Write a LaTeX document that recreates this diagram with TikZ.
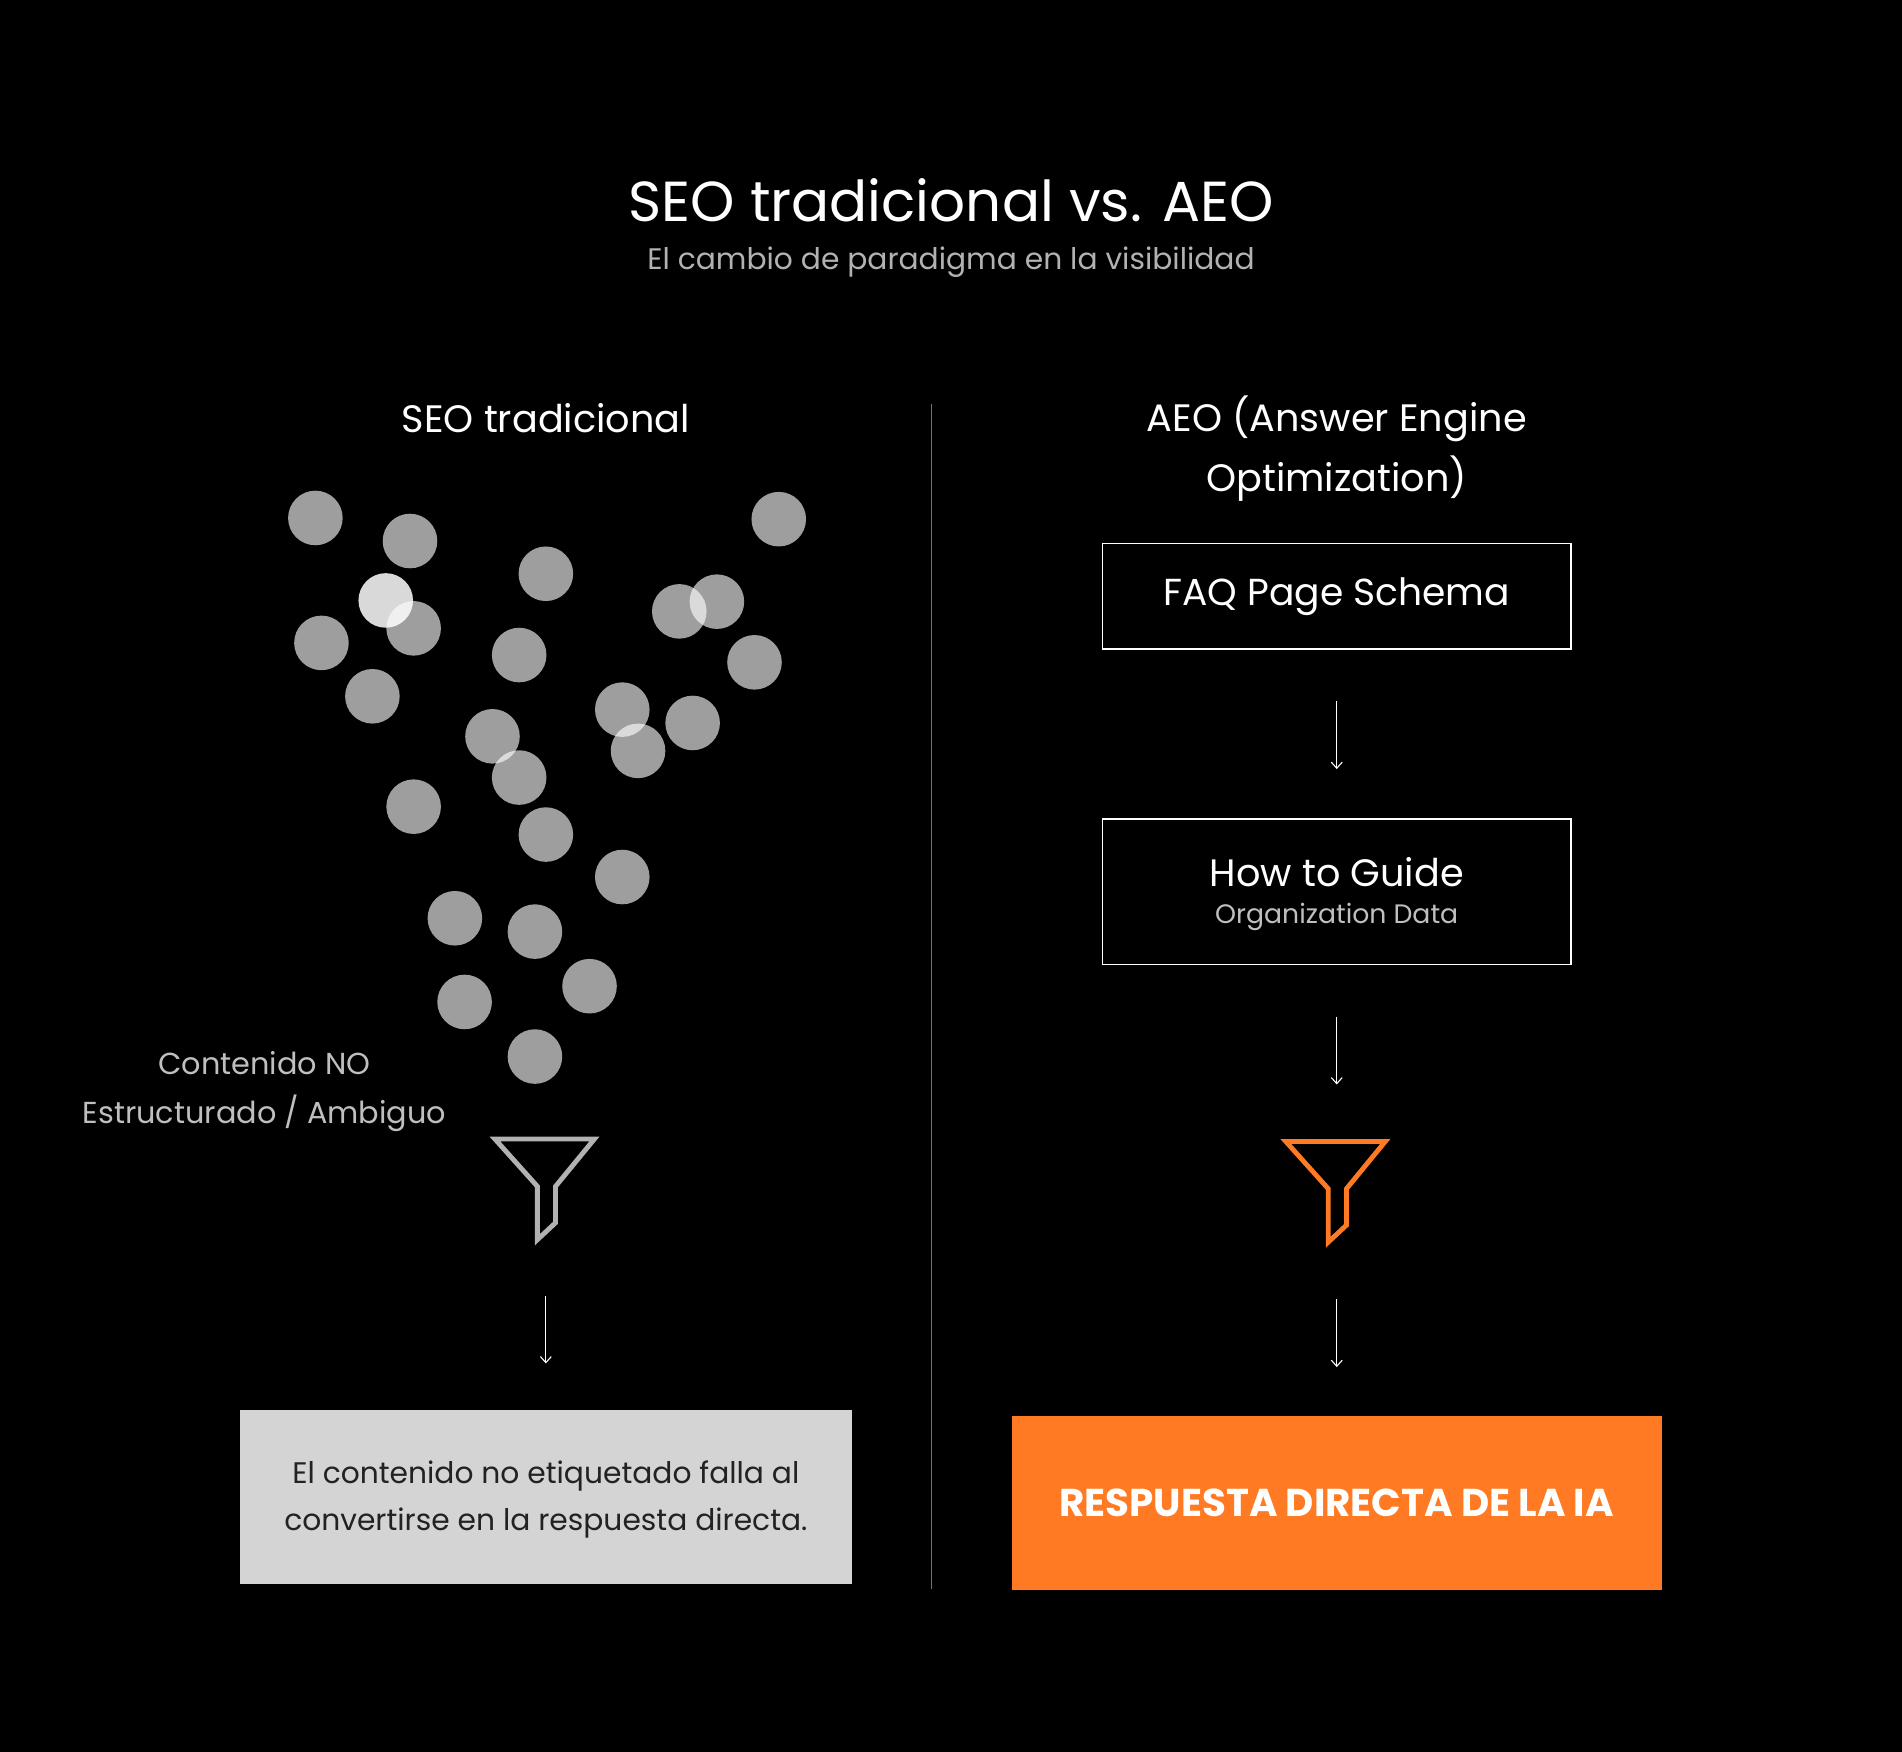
\documentclass[tikz,border=0pt]{standalone}
\usepackage{fontspec}
\setmainfont{Poppins}
\begin{document}
\begin{tikzpicture}[x=1pt,y=-1pt,
  dot/.style={circle,fill=white,fill opacity=0.62,minimum size=45pt,inner sep=0pt},
  lbl/.style={text=white,inner sep=0pt},
  sbox/.style={draw=white,line width=1.3pt,minimum width=386pt,inner sep=0pt},
  thinarrow/.style={draw=white,line width=0.9pt,-{Straight Barb[length=5pt,width=9pt]}}]
\usetikzlibrary{arrows.meta}
\fill[black] (0,0) rectangle (1568,1444);
\useasboundingbox (0,0) rectangle (1568,1444);
\node[lbl,font=\fontsize{46.5}{52}\selectfont] (title) at (784,165) {SEO tradicional vs. AEO};
\node[lbl,text=white!70!black,font=\fontsize{24.5}{28}\selectfont] (sub) at (784,216) {El cambio de paradigma en la visibilidad};
\draw[white!45!black,line width=1pt] (768,333) coordinate (d1) -- (768,1310) coordinate (d2);
\node[lbl,font=\fontsize{31.5}{36}\selectfont] (seo) at (450,345) {SEO tradicional};
\node[lbl,font=\fontsize{31.5}{49}\selectfont,align=center] (aeo) at (1102,370) {AEO (Answer Engine\\Optimization)};
% dots
\foreach \x/\y [count=\i] in {260/427,338/446,450/473,642/428,341/518,265/530,560/504,591/496,428/540,622/546,307/574,513/585,571/596,406/607,526/619,428/641,341/665,450/688,513/723,375/757,441/768,486/813,383/826,441/871}
  \node[dot] (c\i) at (\x,\y) {};
\node[dot,fill opacity=0.85] (cl) at (318,495) {};
\node[lbl,text=white!75!black,font=\fontsize{25}{40}\selectfont,align=center] (amb) at (218,900) {Contenido NO\\Estructurado / Ambiguo};
% funnels
\draw[white!70!black,line width=4pt,line join=miter] (408,939) -- (490,939) -- (458,978) -- (458,1008) -- (443,1022) -- (443,978) -- cycle;
\draw[color={rgb,255:red,255;green,122;blue,34},line width=4pt,line join=miter] (1060,941) -- (1142,941) -- (1110,980) -- (1110,1010) -- (1095,1024) -- (1095,980) -- cycle;
% boxes
\node[sbox,minimum height=87pt] (faq) at (1102,491.5) {};
\node[lbl,font=\fontsize{31}{36}\selectfont] (faqt) at (1102,492) {FAQ Page Schema};
\node[sbox,minimum height=120pt] (how) at (1102,735) {};
\node[lbl,font=\fontsize{31.5}{36}\selectfont] (howt) at (1102,719) {How to Guide};
\node[lbl,text=white!75!black,font=\fontsize{22}{26}\selectfont] (org) at (1102,756) {Organization Data};
\coordinate (a1s) at (1102,578); \coordinate (a1e) at (1102,634);
\coordinate (a2s) at (1102,838); \coordinate (a2e) at (1102,894);
\coordinate (a3s) at (450,1068); \coordinate (a3e) at (450,1124);
\coordinate (a4s) at (1102,1071); \coordinate (a4e) at (1102,1127);
\draw[thinarrow] (a1s) -- (a1e);
\draw[thinarrow] (a2s) -- (a2e);
\draw[thinarrow] (a3s) -- (a3e);
\draw[thinarrow] (a4s) -- (a4e);
\node[fill={rgb,255:red,212;green,212;blue,212},minimum width=504pt,minimum height=144pt,inner sep=0pt] (fail) at (450,1234) {};
\node[inner sep=0pt,text={rgb,255:red,34;green,34;blue,34},font=\fontsize{24.5}{39}\selectfont,align=center] (failt) at (450,1236) {El contenido no etiquetado falla al\\convertirse en la respuesta directa.};
\node[fill={rgb,255:red,255;green,122;blue,34},minimum width=536pt,minimum height=144pt,inner sep=0pt] (resp) at (1102,1239) {};
\node[lbl,font=\fontsize{32}{36}\selectfont\bfseries] (respt) at (resp) {RESPUESTA DIRECTA DE LA IA};
\end{tikzpicture}
\end{document}
